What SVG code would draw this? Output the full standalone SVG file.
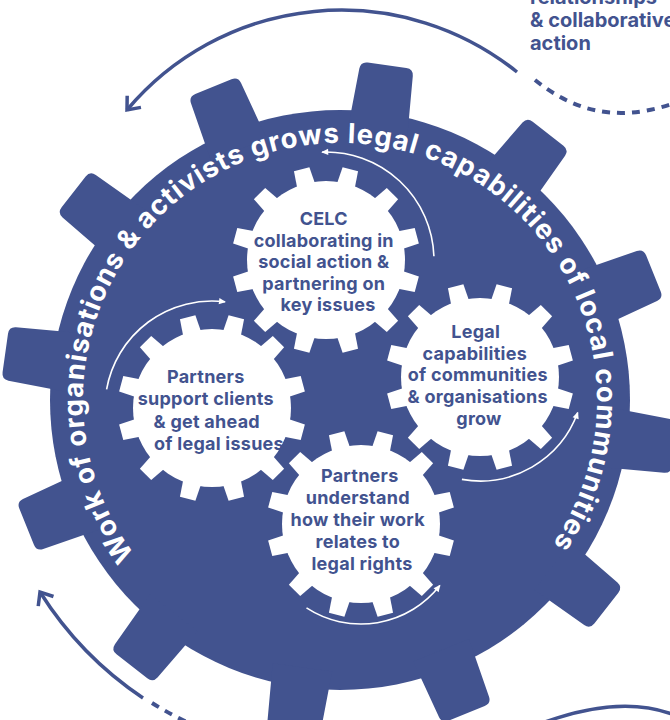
<svg xmlns="http://www.w3.org/2000/svg" width="670" height="720" viewBox="0 0 670 720">
  <style>
    .body { fill: #42538f; }
    .cog { fill: #ffffff; }
    .lbl { font-family: Inter, "Open Sans", "DejaVu Sans", sans-serif; font-weight: 700; font-size: 18px; letter-spacing: 0.25px; fill: #42538f; text-anchor: middle; }
    .ring { font-family: Inter, "Open Sans", "DejaVu Sans", sans-serif; font-weight: 700; font-size: 27.5px; fill: #ffffff; }
    .note { font-family: Inter, "Open Sans", "DejaVu Sans", sans-serif; font-weight: 700; font-size: 20px; fill: #42538f; }
    .flow { fill: none; stroke: #42538f; stroke-width: 3.5; }
    .dash { fill: none; stroke: #42538f; stroke-width: 4; stroke-dasharray: 8 7; }
    .spin { fill: none; stroke: #ffffff; stroke-width: 1.6; }
  </style>
  <defs>
    <!-- one tooth of the large gear, pointing up from the origin -->
    <path id="bigTooth" d="M -30 -270 L -27 -331 Q -26.5 -338 -19.5 -338 L 19.5 -338 Q 26.5 -338 27 -331 L 30 -270 Z"/>
    <!-- one tooth of a small cog -->
    <path id="smallTooth" d="M -9.5 -72 L -8 -94 L 8 -94 L 9.5 -72 Z"/>
    <g id="cogShape">
      <circle r="79"/>
      <use href="#smallTooth" transform="rotate(15)"/>
      <use href="#smallTooth" transform="rotate(45)"/>
      <use href="#smallTooth" transform="rotate(75)"/>
      <use href="#smallTooth" transform="rotate(105)"/>
      <use href="#smallTooth" transform="rotate(135)"/>
      <use href="#smallTooth" transform="rotate(165)"/>
      <use href="#smallTooth" transform="rotate(195)"/>
      <use href="#smallTooth" transform="rotate(225)"/>
      <use href="#smallTooth" transform="rotate(255)"/>
      <use href="#smallTooth" transform="rotate(285)"/>
      <use href="#smallTooth" transform="rotate(315)"/>
      <use href="#smallTooth" transform="rotate(345)"/>
    </g>
    <marker id="chev" markerUnits="userSpaceOnUse" markerWidth="30" markerHeight="30" refX="0" refY="0" orient="auto" overflow="visible">
      <path d="M -11 -9 L 0 0 L -11 9" fill="none" stroke="#42538f" stroke-width="3.5"/>
    </marker>
    <marker id="tip" markerUnits="userSpaceOnUse" markerWidth="12" markerHeight="12" refX="0" refY="0" orient="auto" overflow="visible">
      <path d="M -6 -3.2 L 1 0 L -6 3.2 Z" fill="#ffffff"/>
    </marker>
    <!-- baseline of the lettering that runs round the large gear -->
    <path id="ringPath" d="M 134.8 554.7 A 257 257 0 1 1 555.5 540"/>
  </defs>

  <!-- large gear with its twelve teeth -->
  <g id="main-gear">
    <g class="body" transform="translate(340 400)">
      <circle r="290"/>
      <use href="#bigTooth" transform="rotate(8)"/>
      <use href="#bigTooth" transform="rotate(38)"/>
      <use href="#bigTooth" transform="rotate(68)"/>
      <use href="#bigTooth" transform="rotate(98)"/>
      <use href="#bigTooth" transform="rotate(128)"/>
      <use href="#bigTooth" transform="rotate(158)"/>
      <use href="#bigTooth" transform="rotate(188)"/>
      <use href="#bigTooth" transform="rotate(218)"/>
      <use href="#bigTooth" transform="rotate(248)"/>
      <use href="#bigTooth" transform="rotate(278)"/>
      <use href="#bigTooth" transform="rotate(308)"/>
      <use href="#bigTooth" transform="rotate(338)"/>
    </g>
    <text class="ring"><textPath href="#ringPath" textLength="1126" lengthAdjust="spacing">Work of organisations &amp; activists grows legal capabilities of local communities</textPath></text>
  </g>

  <!-- cog: CELC -->
  <g id="cog-celc">
    <use href="#cogShape" class="cog" transform="translate(326 260)"/>
    <text class="lbl">
      <tspan x="326" y="225">CELC</tspan>
      <tspan x="326" y="247">collaborating in</tspan>
      <tspan x="326" y="268">social action &amp;</tspan>
      <tspan x="326" y="290">partnering on</tspan>
      <tspan x="328" y="311">key issues</tspan>
    </text>
  </g>

  <!-- cog: capabilities grow -->
  <g id="cog-capabilities">
    <use href="#cogShape" class="cog" transform="translate(480 377)"/>
    <text class="lbl">
      <tspan x="478" y="338">Legal</tspan>
      <tspan x="477" y="360">capabilities</tspan>
      <tspan x="480" y="381">of communities</tspan>
      <tspan x="480" y="403">&amp; organisations</tspan>
      <tspan x="479" y="425">grow</tspan>
    </text>
  </g>

  <!-- cog: partners support clients -->
  <g id="cog-support">
    <use href="#cogShape" class="cog" transform="translate(212 408)"/>
    <text class="lbl">
      <tspan x="208" y="383">Partners</tspan>
      <tspan x="208" y="405">support clients</tspan>
      <tspan x="209" y="428">&amp; get ahead</tspan>
      <tspan x="219" y="450">of legal issues</tspan>
    </text>
  </g>

  <!-- cog: partners understand -->
  <g id="cog-understand">
    <use href="#cogShape" class="cog" transform="translate(361 524)"/>
    <text class="lbl">
      <tspan x="362" y="482">Partners</tspan>
      <tspan x="360" y="504">understand</tspan>
      <tspan x="360" y="526">how their work</tspan>
      <tspan x="360" y="548">relates to</tspan>
      <tspan x="362" y="570">legal rights</tspan>
    </text>
  </g>

  <!-- caption at the upper right -->
  <g id="note-relationships">
    <text class="note">
      <tspan x="530" y="4">relationships</tspan>
      <tspan x="530" y="27">&amp; collaborative</tspan>
      <tspan x="530" y="50">action</tspan>
    </text>
  </g>

  <!-- connectors: rotation arrows -->
  <g id="connectors">
    <path class="flow" d="M 517 72 A 280 280 0 0 0 127 110" marker-end="url(#chev)"/>
    <path class="dash" d="M 535 80 C 570 108 612 124 672 104"/>
    <path class="flow" d="M 143 698 A 356 356 0 0 1 40 592" marker-end="url(#chev)"/>
    <path class="dash" stroke-dasharray="9 6" d="M 152 703 A 356 356 0 0 0 218 735"/>
    <path class="flow" d="M 545 722 Q 620 695 672 714"/>

    <path class="spin" d="M 433.9 256.2 A 108 108 0 0 0 322.2 152.1" marker-end="url(#tip)"/>
    <path class="spin" d="M 106.6 389.4 A 107 107 0 0 1 225 301.8" marker-end="url(#tip)"/>
    <path class="spin" d="M 461.9 479.4 A 104 104 0 0 0 577.7 412.6" marker-end="url(#tip)"/>
    <path class="spin" d="M 306.5 607.9 A 100 100 0 0 0 439.8 585.6" marker-end="url(#tip)"/>
  </g>
</svg>
